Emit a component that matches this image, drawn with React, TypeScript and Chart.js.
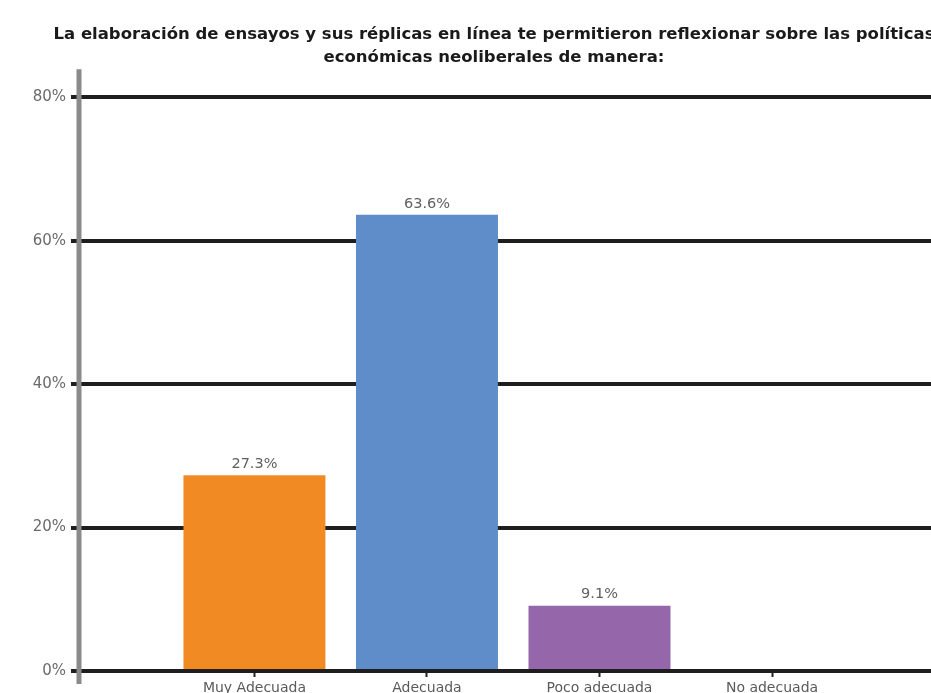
import React, { useEffect, useRef } from "react";
import { Chart, registerables } from "chart.js";

Chart.register(...registerables);

const categories = ["Muy Adecuada", "Adecuada", "Poco adecuada", "No adecuada"];
const values = [27.3, 63.6, 9.1, 0];
const barColors = ["#F28A24", "#5F8DC9", "#9566AA", "#7F7F7F"];
const yTicks = [0, 20, 40, 60, 80];
const titleLines = [
  "La elaboración de ensayos y sus réplicas en línea te permitieron reflexionar sobre las políticas",
  "económicas neoliberales de manera:",
];

const FONT = "'DejaVu Sans', 'Liberation Sans', Arial, sans-serif";

const axisLinePlugin = {
  id: "axisLine",
  beforeDatasetsDraw(chart: any) {
    const { ctx, chartArea } = chart;
    ctx.save();
    ctx.strokeStyle = "#8a8a8a";
    ctx.lineWidth = 5;
    ctx.beginPath();
    ctx.moveTo(chartArea.left, chartArea.top - 28);
    ctx.lineTo(chartArea.left, chartArea.bottom + 13);
    ctx.stroke();
    ctx.restore();
  },
};

const valueLabelPlugin = {
  id: "valueLabels",
  afterDatasetsDraw(chart: any) {
    const { ctx } = chart;
    const meta = chart.getDatasetMeta(0);
    ctx.save();
    ctx.font = `14.5px ${FONT}`;
    ctx.fillStyle = "#606060";
    ctx.textAlign = "center";
    ctx.textBaseline = "middle";
    meta.data.forEach((bar: any, i: number) => {
      const v = values[i];
      if (!v) return;
      ctx.fillText(`${v.toFixed(1)}%`, bar.x, bar.y - 11);
    });
    ctx.restore();
  },
};

export default function App() {
  const ref = useRef<HTMLCanvasElement>(null);

  useEffect(() => {
    if (!ref.current) return;
    const chart = new Chart(ref.current, {
      type: "bar",
      data: {
        datasets: [
          {
            data: values.map((v, i) => ({ x: i, y: v })),
            backgroundColor: barColors,
            borderWidth: 0,
            barPercentage: 0.823,
            categoryPercentage: 1,
          },
        ],
      },
      options: {
        responsive: false,
        animation: false,
        devicePixelRatio: 1,
        layout: { padding: { left: 0, right: 0, top: 0, bottom: 0 } },
        plugins: {
          legend: { display: false },
          tooltip: { enabled: false },
          title: {
            display: true,
            text: titleLines,
            color: "#1a1a1a",
            font: { family: FONT, size: 16.5, weight: "bold", lineHeight: 1.4 },
            padding: { top: 23, bottom: 28 },
          },
        },
        scales: {
          x: {
            type: "linear",
            offset: false,
            min: -1.017,
            max: 4.252,
            afterBuildTicks: (scale: any) => {
              scale.ticks = categories.map((_, i) => ({ value: i }));
            },
            afterFit: (scale: any) => {
              scale.height = 29;
            },
            ticks: {
              autoSkip: false,
              maxRotation: 0,
              padding: 3,
              color: "#5a5a5a",
              font: { family: FONT, size: 14 },
              callback: (v: any) => categories[v] ?? "",
            },
            grid: {
              offset: false,
              drawOnChartArea: false,
              drawTicks: true,
              tickLength: 6,
              tickWidth: 2,
              tickColor: "#222",
            },
            border: { display: false },
          },
          y: {
            min: 0,
            max: 80,
            afterBuildTicks: (scale: any) => {
              scale.ticks = yTicks.map((v) => ({ value: v }));
            },
            afterFit: (scale: any) => {
              scale.width = 79;
            },
            ticks: {
              padding: 5,
              color: "#6a6a6a",
              font: { family: FONT, size: 15 },
              callback: (v: any) => `${v}%`,
            },
            grid: {
              color: "#1e1e1e",
              lineWidth: 4,
              tickLength: 8,
              drawTicks: true,
            },
            border: { display: false },
          },
        },
      },
      plugins: [axisLinePlugin, valueLabelPlugin],
    });
    return () => chart.destroy();
  }, []);

  return (
    <div
      style={{
        position: "fixed",
        left: 0,
        top: 0,
        width: 931,
        height: 693,
        overflow: "hidden",
        background: "#fff",
      }}
    >
      <canvas ref={ref} width={988} height={700} style={{ display: "block" }} />
    </div>
  );
}
